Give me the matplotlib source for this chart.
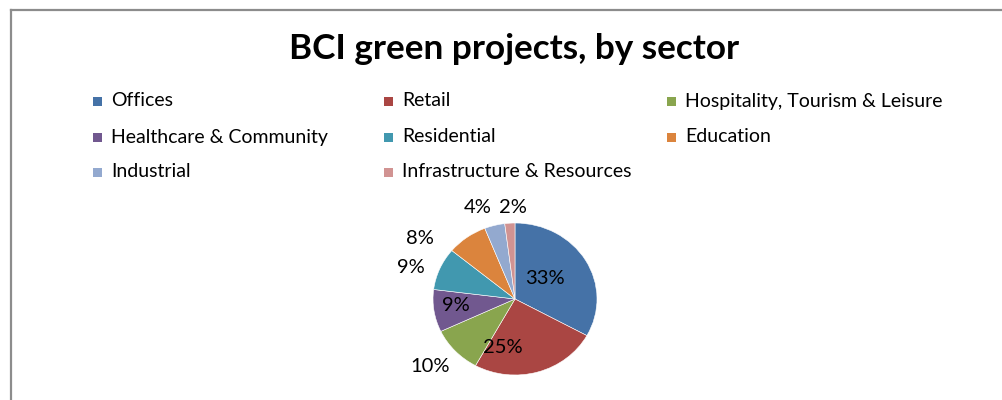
import numpy as np
import matplotlib
matplotlib.use("Agg")
import matplotlib.pyplot as plt
from matplotlib.lines import Line2D
from matplotlib.patches import Rectangle

# ---- data ----
title = "BCI green projects, by sector"
sectors = ["Offices", "Retail", "Hospitality, Tourism & Leisure",
           "Healthcare & Community", "Residential", "Education",
           "Industrial", "Infrastructure & Resources"]
shares = [33, 25, 10, 9, 9, 8, 4, 2]

# ---- style ----
colors = ["#4572A7", "#AA4643", "#89A54E", "#71588F",
          "#4198AF", "#DB843D", "#93A9CF", "#D19392"]
# label placement: (angle offset from wedge mid-angle in degrees, radius factor)
label_place = [(6, 0.46), (-29, 0.65), (-2.6, 1.37), (-2.7, 0.73),
               (5.6, 1.34), (19.4, 1.41), (6.2, 1.28), (-2.6, 1.2)]
FONT = "Lato"

W, H = 1003, 400
fig = plt.figure(figsize=(W / 100, H / 100), dpi=100)
fig.patch.set_facecolor("white")

def px(x, y):
    return x / W, 1 - y / H

# frame (chart area border, partly outside the picture)
fig.add_artist(Line2D([11 / W, 11 / W], [0, 1 - 10 / H], transform=fig.transFigure,
                      color="#8c8c8c", lw=1.6))
fig.add_artist(Line2D([11 / W, 1], [1 - 10 / H, 1 - 10 / H], transform=fig.transFigure,
                      color="#8c8c8c", lw=1.6))

# title
fig.text(*px(514, 49), title, ha="center", va="center", fontsize=25.3,
         fontweight="bold", family=FONT, color="black")

# legend (3 columns, row-major order)
col_x = [93, 384, 667]
row_y = [101, 137, 172]
for i, (name, c) in enumerate(zip(sectors, colors)):
    r, k = divmod(i, 3)
    x0, y0 = col_x[k], row_y[r]
    fig.add_artist(Rectangle(px(x0, y0 + 5), 9 / W, 9 / H, transform=fig.transFigure,
                             facecolor=c, edgecolor="none"))
    fig.text(*px(x0 + 18, y0), name, ha="left", va="center", fontsize=14,
             family=FONT, color="black")

# pie (elliptical like the reference: rx=82px, ry=76px, centre at (515,299))
cx, cy, rx, ry = 515, 299, 82, 76
xl, yl = 1.6, 1.3
aw, ah = 2 * xl * rx, 2 * yl * ry
ax = fig.add_axes([(cx - aw / 2) / W, 1 - (cy + ah / 2) / H, aw / W, ah / H])
wedges, _ = ax.pie(shares, colors=colors, startangle=90, counterclock=False,
                   wedgeprops=dict(edgecolor="white", linewidth=0.4))
ax.set_aspect("auto")
ax.set_xlim(-xl, xl)
ax.set_ylim(-yl, yl)
ax.axis("off")

total = float(sum(shares))
for w, v, (dang, rad) in zip(wedges, shares, label_place):
    mid = np.deg2rad((w.theta1 + w.theta2) / 2 + dang)
    ax.text(rad * np.cos(mid), rad * np.sin(mid), f"{v / total * 100:.0f}%",
            ha="center", va="center", fontsize=14.5, family=FONT, color="black",
            clip_on=False)

fig.savefig("out.png", dpi=100)
